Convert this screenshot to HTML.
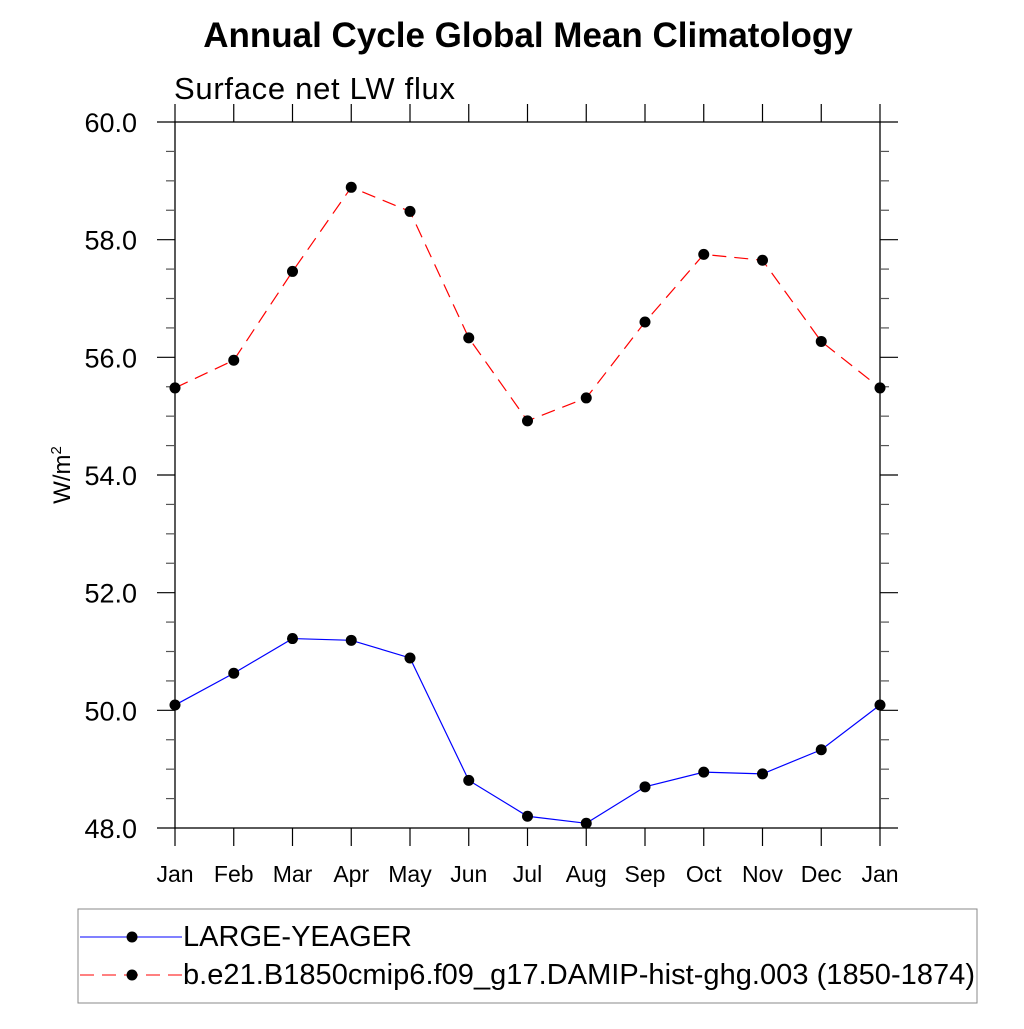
<!DOCTYPE html>
<html><head><meta charset="utf-8"><style>
body{margin:0;background:#fff}
svg text{font-family:"Liberation Sans",sans-serif}
</style></head><body>
<svg width="1024" height="1024" viewBox="0 0 1024 1024">
<text x="528" y="47" font-size="35" font-weight="bold" text-anchor="middle">Annual Cycle Global Mean Climatology</text>
<text x="174" y="99" font-size="31" textLength="281">Surface net LW flux</text>
<text transform="translate(70,475) rotate(-90)" font-size="24" text-anchor="middle">W/m<tspan font-size="15" dy="-9">2</tspan></text>
<g id="axes"></g>
<g id="series"></g>
<rect x="78" y="909" width="899" height="94" fill="none" stroke="#888" stroke-width="1"/>
<g>
<line x1="80" y1="937" x2="182" y2="937" stroke="#00f" stroke-width="1"/>
<circle cx="132" cy="937" r="5.5" fill="#000"/>
<text x="183" y="946" font-size="29" textLength="229">LARGE-YEAGER</text>
</g>
<g>
<line x1="80" y1="975" x2="182" y2="975" stroke="#f00" stroke-width="1" stroke-dasharray="14,8"/>
<circle cx="132" cy="975" r="5.5" fill="#000"/>
<text x="183" y="984" font-size="29" textLength="792">b.e21.B1850cmip6.f09_g17.DAMIP-hist-ghg.003 (1850-1874)</text>
</g>
</svg>
<script>
const months=["Jan","Feb","Mar","Apr","May","Jun","Jul","Aug","Sep","Oct","Nov","Dec","Jan"];
const yTicks=[48,50,52,54,56,58,60];
const largeYeager=[50.09,50.63,51.22,51.19,50.89,48.81,48.2,48.08,48.7,48.95,48.92,49.33,50.09];
const damip=[55.48,55.95,57.46,58.89,58.48,56.33,54.92,55.31,56.6,57.75,57.65,56.27,55.48];
const NS="http://www.w3.org/2000/svg";
const L=175,R=880,T=122,B=828,ymin=48,ymax=60;
const xs=i=>L+(R-L)*i/(months.length-1);
const ys=v=>B-(B-T)*(v-ymin)/(ymax-ymin);
function mk(tag,attrs,parent){const e=document.createElementNS(NS,tag);for(const k in attrs)e.setAttribute(k,attrs[k]);parent.appendChild(e);return e;}
const ax=document.getElementById('axes');
const frame=mk('rect',{x:L,y:T,width:R-L,height:B-T,fill:'none',stroke:'#000','stroke-width':1.3},ax);


months.forEach((m,i)=>{
  const x=xs(i);
  mk('line',{x1:x,y1:B,x2:x,y2:B+18,stroke:'#000','stroke-width':1.2},ax);
  mk('line',{x1:x,y1:T,x2:x,y2:T-18,stroke:'#000','stroke-width':1.2},ax);
  const t=mk('text',{x:x,y:B+54,'font-size':23,'text-anchor':'middle'},ax);
  t.textContent=m;
  
  
});
for(let v=ymin;v<=ymax+1e-9;v+=0.5){
  const y=ys(v);const major=Math.abs(v/2-Math.round(v/2))<1e-6;
  const len=major?18:9;
  mk('line',{x1:L,y1:y,x2:L-len,y2:y,stroke:major?'#000':'#555','stroke-width':1.2},ax);
  mk('line',{x1:R,y1:y,x2:R+len,y2:y,stroke:major?'#000':'#555','stroke-width':1.2},ax);
}
yTicks.forEach(v=>{
  const t=mk('text',{x:L-38,y:ys(v)+10,'font-size':27,'text-anchor':'end'},ax);
  t.textContent=v.toFixed(1);
  
  
});
const sg=document.getElementById('series');
function draw(vals,color,dash,name){
  const g=mk('g',{},sg);
  
  
  const p=mk('polyline',{points:vals.map((v,i)=>xs(i)+','+ys(v)).join(' '),fill:'none',stroke:color,'stroke-width':1.2},g);
  if(dash)p.setAttribute('stroke-dasharray',dash);
  vals.forEach((v,i)=>{
    const c=mk('circle',{cx:xs(i),cy:ys(v),r:5.5,fill:'#000'},g);
    
    
  });
}
draw(damip,'#f00','14,8','series-damip');
draw(largeYeager,'#00f',null,'series-large-yeager');
</script>
</body></html>
